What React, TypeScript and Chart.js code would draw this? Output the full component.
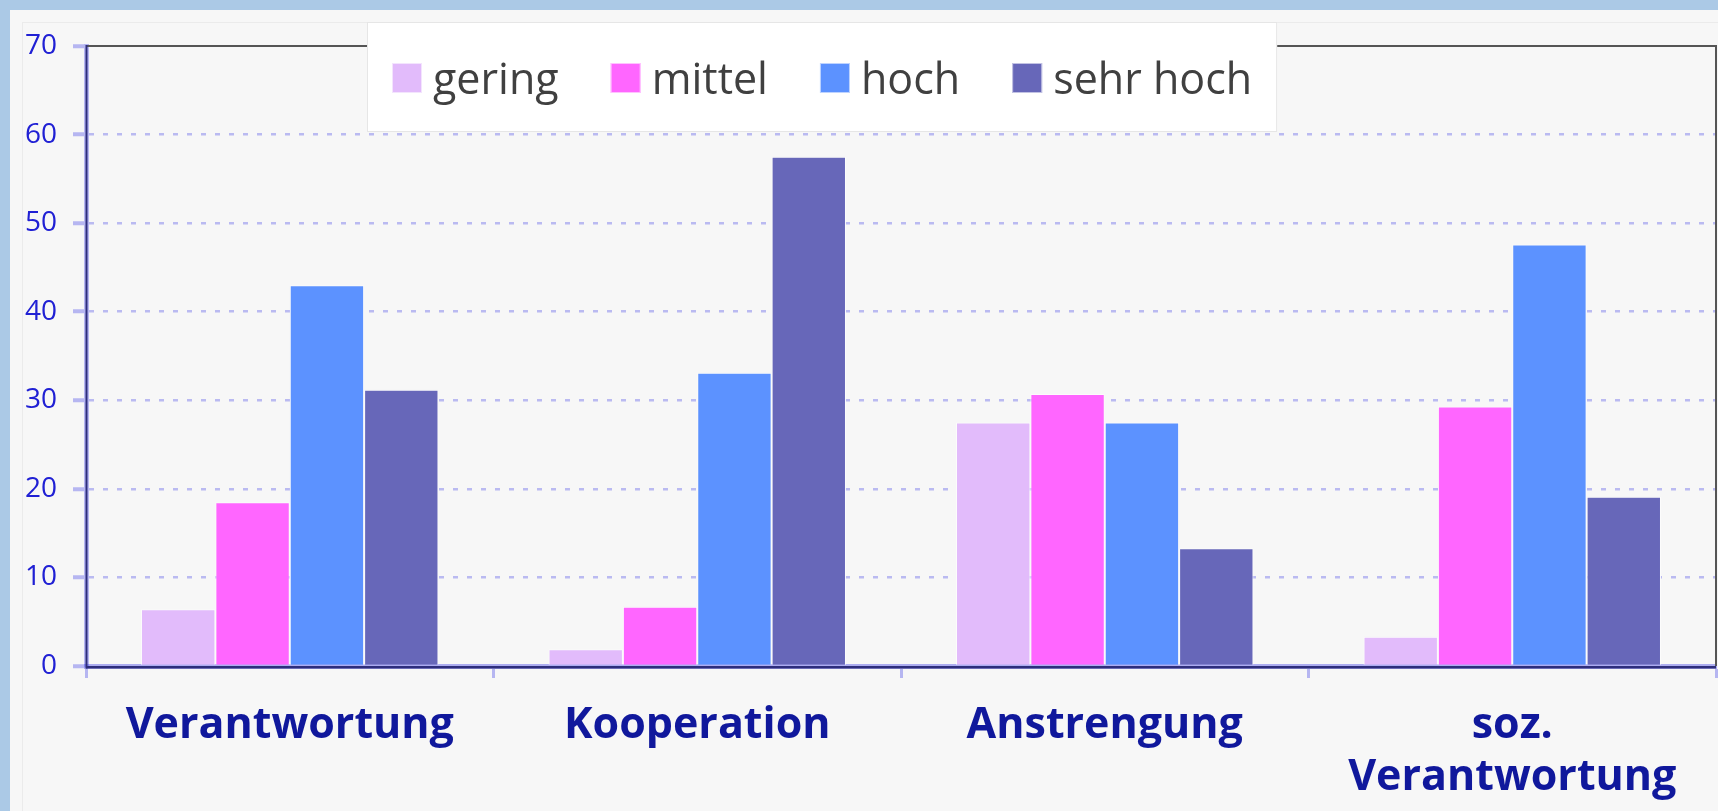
import React, { useEffect, useRef } from 'react';
import { Chart, registerables } from 'chart.js';

Chart.register(...registerables);

// ---- data ----
const categories: (string | string[])[] = ['Verantwortung', 'Kooperation', 'Anstrengung', ['soz.', 'Verantwortung']];
const seriesNames = ['gering', 'mittel', 'hoch', 'sehr hoch'];
const gering = [6.4, 1.9, 27.5, 3.3];
const mittel = [18.5, 6.7, 30.7, 29.3];
const hoch = [43.0, 33.1, 27.5, 47.6];
const sehrHoch = [31.2, 57.5, 13.3, 19.1];
const yMin = 0;
const yMax = 70;
const yStep = 10;

const seriesValues = [gering, mittel, hoch, sehrHoch];
const seriesColors = ['#e2bbfb', '#ff66ff', '#5c92ff', '#6767b9'];

const CANVAS_W = 1708;
const CANVAS_H = 801;

const framePlugin = {
  id: 'framePlugin',
  beforeDatasetsDraw(chart: any) {
    const { ctx } = chart;
    const { left, right, top, bottom } = chart.chartArea;
    ctx.save();
    ctx.strokeStyle = '#555555';
    ctx.lineWidth = 2;
    ctx.beginPath();
    ctx.moveTo(left, top);
    ctx.lineTo(right, top);
    ctx.moveTo(right, top - 1);
    ctx.lineTo(right, bottom);
    ctx.stroke();
    ctx.strokeStyle = '#2e2e7c';
    ctx.lineWidth = 2.5;
    ctx.beginPath();
    ctx.moveTo(left, bottom + 1.3);
    ctx.lineTo(right, bottom + 1.3);
    ctx.stroke();
    ctx.restore();
  },
};

const legendPlugin = {
  id: 'boxLegend',
  afterDraw(chart: any) {
    const { ctx } = chart;
    const { left, top, bottom } = chart.chartArea;
    ctx.save();
    // dark left axis line on top of the translucent band
    ctx.strokeStyle = '#2e2e7c';
    ctx.lineWidth = 2;
    ctx.beginPath();
    ctx.moveTo(left + 0.5, top - 1);
    ctx.lineTo(left + 0.5, bottom + 2.5);
    ctx.stroke();

    ctx.font = '43px "Open Sans"';
    const sw = 29;
    const gapText = 12;
    const gapItem = 52;
    const pad = 25;
    const widths = seriesNames.map((n) => ctx.measureText(n).width);
    const content =
      widths.reduce((a, w) => a + sw + gapText + w, 0) + gapItem * (seriesNames.length - 1);
    const bx = 357;
    const by = 12;
    const bh = 110;
    const bw = content + pad * 2;
    ctx.fillStyle = '#ffffff';
    ctx.fillRect(bx, by, bw, bh);
    ctx.strokeStyle = '#e6e6e6';
    ctx.lineWidth = 1;
    ctx.strokeRect(bx + 0.5, by + 0.5, bw - 1, bh - 1);
    let x = bx + pad;
    seriesNames.forEach((n, i) => {
      ctx.fillStyle = seriesColors[i];
      ctx.fillRect(x, 53, sw + 1, sw + 1);
      ctx.strokeStyle = 'rgba(255,255,255,0.6)';
      ctx.strokeRect(x + 0.5, 53.5, sw, sw);
      ctx.fillStyle = '#404040';
      ctx.textBaseline = 'alphabetic';
      ctx.textAlign = 'left';
      ctx.fillText(n, x + sw + gapText, 84);
      x += sw + gapText + widths[i] + gapItem;
    });
    ctx.restore();
  },
};

export default function App() {
  const canvasRef = useRef<HTMLCanvasElement | null>(null);

  useEffect(() => {
    if (!canvasRef.current) return;
    const chart = new Chart(canvasRef.current, {
      type: 'bar',
      data: {
        labels: categories as any,
        datasets: seriesNames.map((name, i) => ({
          label: name,
          data: seriesValues[i],
          backgroundColor: seriesColors[i],
          borderColor: 'rgba(252,252,252,0.95)',
          borderWidth: 1,
          categoryPercentage: 0.73,
          barPercentage: 1.0,
        })),
      },
      options: {
        responsive: false,
        maintainAspectRatio: false,
        animation: false,
        devicePixelRatio: 1,
        layout: { padding: { top: 36, right: 2, left: 0, bottom: 0 } },
        plugins: {
          legend: { display: false },
          tooltip: { enabled: false },
          title: { display: false },
        },
        scales: {
          x: {
            z: 1,
            grid: {
              display: true,
              drawOnChartArea: false,
              drawTicks: true,
              offset: true,
              tickLength: 12,
              tickWidth: 3,
              tickColor: 'rgba(60,60,230,0.35)',
            },
            border: { display: true, color: 'rgba(60,60,230,0.4)', width: 5 },
            ticks: {
              color: '#10189c',
              font: { family: '"Open Sans"', size: 43, weight: 'bold', lineHeight: 1.2 },
              padding: 22,
              maxRotation: 0,
              minRotation: 0,
              autoSkip: false,
            },
            afterFit: (s: any) => {
              s.height = 145;
            },
          },
          y: {
            z: 1,
            min: yMin,
            max: yMax,
            ticks: {
              stepSize: yStep,
              color: '#2020d4',
              font: { family: '"Open Sans"', size: 28 },
              padding: 16,
            },
            grid: {
              color: (c: any) =>
                c.tick && (c.tick.value === yMin || c.tick.value === yMax)
                  ? 'rgba(0,0,0,0)'
                  : 'rgba(60,60,230,0.32)',
              lineWidth: 2.5,
              drawTicks: true,
              tickLength: 13,
              tickWidth: 4,
              tickColor: 'rgba(60,60,230,0.35)',
            },
            border: { display: true, color: 'rgba(60,60,230,0.35)', width: 5, dash: [5, 9] },
            afterFit: (s: any) => {
              s.width = 76;
            },
          },
        },
      } as any,
      plugins: [framePlugin, legendPlugin],
    });
    return () => chart.destroy();
  }, []);

  return (
    <div
      style={{
        position: 'fixed',
        left: 0,
        top: 0,
        width: 1718,
        height: 811,
        background: '#abc9e6',
        overflow: 'hidden',
      }}
    >
      <div
        style={{
          position: 'absolute',
          left: 10,
          top: 10,
          width: CANVAS_W,
          height: CANVAS_H,
          background: '#f7f7f7',
        }}
      >
        <div
          style={{
            position: 'absolute',
            left: 12,
            top: 12,
            right: 0,
            bottom: 0,
            borderLeft: '1px solid #ebebeb',
            borderTop: '1px solid #ebebeb',
          }}
        />
        <canvas
          ref={canvasRef}
          width={CANVAS_W}
          height={CANVAS_H}
          style={{ position: 'absolute', left: 0, top: 0, width: CANVAS_W, height: CANVAS_H }}
        />
      </div>
    </div>
  );
}
